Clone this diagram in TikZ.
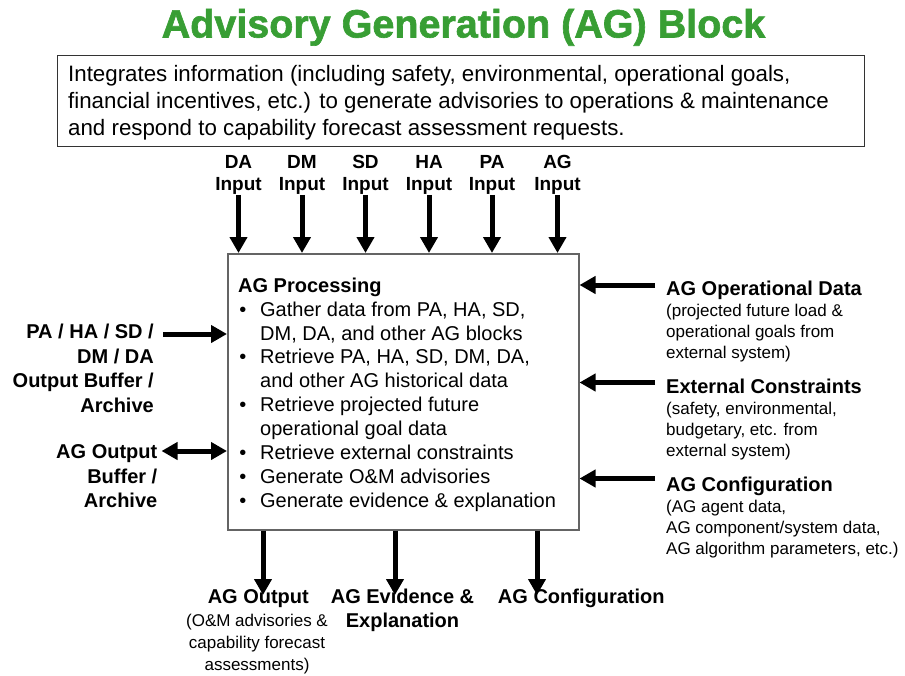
\documentclass[tikz,border=0pt]{standalone}
\usepackage{fontspec}
\setmainfont{Liberation Sans}
\newfontfamily\titlefont{Liberation Sans}[BoldFeatures={FakeBold=1.6}]
\usetikzlibrary{arrows.meta}

\definecolor{titlegreen}{RGB}{56,158,52}
\definecolor{boxgray}{RGB}{100,100,100}

% bullet mark and hanging indent for the processing list
\newcommand\itemmark{\makebox[22pt][l]{\hspace*{1.2pt}\textbullet}}
\newcommand\itemgap{\hspace*{22pt}}

\tikzset{
  arr/.style={line width=5pt, -{Triangle[length=16pt,width=17pt]}},
  darr/.style={line width=5pt, {Triangle[length=16pt,width=17pt]}-{Triangle[length=16pt,width=17pt]}},
  head/.style={inner sep=0pt, font=\fontsize{20}{24.5}\selectfont\bfseries},
  inlabel/.style={inner sep=0pt, align=center, font=\fontsize{19}{22.5}\selectfont\bfseries},
  subtext/.style={inner sep=0pt, font=\fontsize{17}{21}\selectfont},
}

\begin{document}
\begin{tikzpicture}[x=1pt,y=-1pt]
\useasboundingbox (0,0) rectangle (905,675);

% title
\node[anchor=base, inner sep=0pt, text=titlegreen,
      font=\fontsize{39.5}{44}\titlefont\bfseries] (title) at (463.5,37.5)
      {Advisory Generation (AG) Block};

% description box
\node[draw=black!80, line width=1.3pt, anchor=north west, inner sep=0pt,
      minimum width=807pt, minimum height=91pt] (descbox) at (57,54.5) {};
\node[anchor=north west, inner sep=0pt, align=left,
      font=\fontsize{22.3}{27}\selectfont] (desc) at (68,62.1)
  {\strut Integrates information (including safety, environmental, operational goals,\\
   financial incentives, etc.) to generate advisories to operations \& maintenance\\
   and respond to capability forecast assessment requests.};

% processing block
\node[draw=boxgray, line width=1.5pt, anchor=north west, inner sep=0pt,
      minimum width=351pt, minimum height=276pt] (proc) at (227,253) {};
\node[anchor=north west, inner sep=0pt, align=left,
      font=\fontsize{20}{23.9}\selectfont] (proctext) at (238,275.3)
  {\strut{\bfseries AG Processing}\\
   \itemmark Gather data from PA, HA, SD,\\
   \itemgap DM, DA, and other AG blocks\\
   \itemmark Retrieve PA, HA, SD, DM, DA,\\
   \itemgap and other AG historical data\\
   \itemmark Retrieve projected future\\
   \itemgap operational goal data\\
   \itemmark Retrieve external constraints\\
   \itemmark Generate O\&M advisories\\
   \itemmark Generate evidence \& explanation};

% inputs along the top
\node[inlabel, anchor=north] (inDA) at (238.5,152.2) {\strut DA\\Input};
\node[inlabel, anchor=north] (inDM) at (302,152.2) {\strut DM\\Input};
\node[inlabel, anchor=north] (inSD) at (365.5,152.2) {\strut SD\\Input};
\node[inlabel, anchor=north] (inHA) at (429,152.2) {\strut HA\\Input};
\node[inlabel, anchor=north] (inPA) at (492,152.2) {\strut PA\\Input};
\node[inlabel, anchor=north] (inAG) at (557.5,152.2) {\strut AG\\Input};
\foreach \n in {inDA,inDM,inSD,inHA,inPA,inAG}
  \draw[arr] (\n.south) -- (\n.south |- proc.north);

% left side
\node[head, anchor=north east, align=right] (buf) at (154,321.2)
  {\strut PA / HA / SD /\\DM / DA\\Output Buffer /\\Archive};
\node[head, anchor=north east, align=right] (agbuf) at (157.5,441.2)
  {\strut AG Output\\Buffer /\\Archive};
\draw[arr] ([xshift=9pt]buf.east |- 0,334) -- (proc.west |- 0,334);
\draw[darr] ([xshift=4pt]agbuf.east |- 0,451) -- (proc.west |- 0,451);

% right side
\node[head, anchor=base west] (opd) at (666,295) {AG Operational Data};
\node[subtext, anchor=north west, align=left] (opdsub) at (666,301.3)
  {\strut(projected future load \&\\operational goals from\\external system)};
\node[head, anchor=base west] (ext) at (666,393.5) {External Constraints};
\node[subtext, anchor=north west, align=left] (extsub) at (666,399.8)
  {\strut(safety, environmental,\\budgetary, etc. from\\external system)};
\node[head, anchor=base west] (cfg) at (666,491.5) {AG Configuration};
\node[subtext, anchor=north west, align=left] (cfgsub) at (666,497.8)
  {\strut(AG agent data,\\AG component/system data,\\AG algorithm parameters, etc.)};
\draw[arr] ([xshift=-11pt]opd.west |- 0,285) -- (proc.east |- 0,285);
\draw[arr] ([xshift=-11pt]ext.west |- 0,382.5) -- (proc.east |- 0,382.5);
\draw[arr] ([xshift=-11pt]cfg.west |- 0,478.5) -- (proc.east |- 0,478.5);

% outputs along the bottom
\coordinate (tipout) at (263,595);
\coordinate (tipev) at (395,595);
\coordinate (tipcfg) at (537,595);
\draw[arr] (proc.south -| tipout) -- (tipout);
\draw[arr] (proc.south -| tipev) -- (tipev);
\draw[arr] (proc.south -| tipcfg) -- (tipcfg);

\node[head, anchor=base] (agout) at (258.3,603.3) {AG Output};
\node[inner sep=0pt, anchor=north, align=center,
      font=\fontsize{17}{22}\selectfont] (agoutsub) at (257,610.6)
  {\strut(O\&M advisories \&\\capability forecast\\assessments)};
\node[head, anchor=north, align=center, font=\fontsize{20}{24}\selectfont\bfseries]
  (agev) at (402.5,586.5) {\strut AG Evidence \&\\Explanation};
\node[head, anchor=base] (agcfg) at (581.3,603.3) {AG Configuration};
\end{tikzpicture}
\end{document}
